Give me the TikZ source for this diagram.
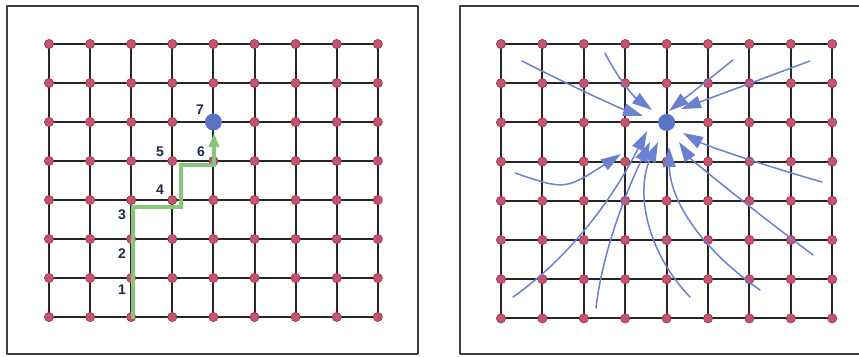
\documentclass[tikz,border=0pt]{standalone}
\usepackage{fontspec}
\setsansfont{Liberation Sans}
\usetikzlibrary{arrows.meta}
\definecolor{dotred}{HTML}{C8536E}
\definecolor{dotedge}{HTML}{8E3347}
\definecolor{fieldblue}{HTML}{5A72C8}
\definecolor{pathgreen}{HTML}{86C878}
\definecolor{labelnavy}{HTML}{1E2A48}
\tikzset{
  frame/.style={line width=1.2pt, black!75},
  gridline/.style={line width=2pt, black!85},
  gridnode/.style={fill=dotred, draw=dotedge, line width=0.6pt},
  goal/.style={circle, fill=fieldblue, inner sep=0pt, minimum size=17pt},
  walk/.style={line width=3.4pt, pathgreen, line join=miter, line cap=butt,
    -{Triangle[length=14pt,width=10pt]}},
  steplabel/.style={text=labelnavy, font=\sffamily\bfseries\fontsize{14}{15}\selectfont, inner sep=0pt},
  field/.style={line width=1.5pt, fieldblue!90, -{Triangle[length=20pt,width=12.5pt]}}
}
\begin{document}
\begin{tikzpicture}[x=1pt, y=-1pt, line join=round, line cap=round]
  \useasboundingbox (0,0) rectangle (859,356);
  \def\dxl{41.1} \def\dyl{39}
  \def\dxr{41.4} \def\dyr{39.2}

  % Khung hai hình
  \draw[frame] (7,6) rectangle (418,354);
  \draw[frame] (859,6) -| (460,354) -- (859,354);

  % Lưới bên trái và bên phải
  \foreach \i in {0,...,8}
    \foreach \j in {0,...,7} {
      \coordinate (L-\i-\j) at ({49+\i*\dxl},{44+\j*\dyl});
      \coordinate (R-\i-\j) at ({501+\i*\dxr},{44+\j*\dyr});
    }
  \foreach \j in {0,...,7} {
    \draw[gridline] (L-0-\j) -- (L-8-\j);
    \draw[gridline] (R-0-\j) -- (R-8-\j);
  }
  \foreach \i in {0,...,8} {
    \draw[gridline] (L-\i-0) -- (L-\i-7);
    \draw[gridline] (R-\i-0) -- (R-\i-7);
  }
  \foreach \i in {0,...,8}
    \foreach \j in {0,...,7} {
      \filldraw[gridnode] (L-\i-\j) circle (4.6pt);
      \filldraw[gridnode] (R-\i-\j) circle (4.6pt);
    }

  % Đích
  \node[goal] (goalL) at (L-4-2) {};
  \node[goal] (goalR) at (R-4-2) {};

  % Đường đi từng bước
  \coordinate (w0) at (133,319);
  \coordinate (w1) at (181,207);
  \coordinate (w2) at (214,165);
  \coordinate (w3) at (214,133);
  \draw[walk] (w0) |- (w1) |- (w2) -- (w3);
  \node[steplabel] (n1) at (122,290) {1};
  \node[steplabel] (n2) at (122,254) {2};
  \node[steplabel] (n3) at (122,215) {3};
  \node[steplabel] (n4) at (160,190) {4};
  \node[steplabel] (n5) at (160,152) {5};
  \node[steplabel] (n6) at (201,152) {6};
  \node[steplabel] (n7) at (200,110) {7};

  % Các đường hội tụ về đích
  \coordinate (s1) at (522,61);   \coordinate (t1) at (643,116);
  \coordinate (s2) at (605,53);   \coordinate (t2) at (652,110);
  \coordinate (s3) at (733,60);   \coordinate (t3) at (669,111);
  \coordinate (s4) at (810,61);   \coordinate (t4) at (681,109);
  \coordinate (s5) at (515,173);  \coordinate (t5) at (621,154);
  \coordinate (s6) at (513,297);  \coordinate (t6) at (647,131);
  \coordinate (s7) at (596,308);  \coordinate (t7) at (650,142);
  \coordinate (s8) at (690,297);  \coordinate (t8) at (658,142);
  \coordinate (s9) at (760,290);  \coordinate (t9) at (669,147);
  \coordinate (s10) at (813,255); \coordinate (t10) at (679,142);
  \coordinate (s11) at (822,182); \coordinate (t11) at (683,133);
  \draw[field] (s1) .. controls (581,91) and (622,109) .. (t1);
  \draw[field] (s2) .. controls (617,77) and (633,96) .. (t2);
  \draw[field] (s3) -- (t3);
  \draw[field] (s4) -- (t4);
  \draw[field] (s5) .. controls (565,190) .. (t5);
  \draw[field] (s6) .. controls (566,260) and (610,204) .. (t6);
  \draw[field] (s7) .. controls (601,263) and (619,207) .. (t7);
  \draw[field] (s8) .. controls (645,250) and (636,190) .. (t8);
  \draw[field] (s9) .. controls (700,248) and (670,200) .. (t9);
  \draw[field] (s10) .. controls (733,195) and (689,157) .. (t10);
  \draw[field] (s11) .. controls (749,161) and (703,144) .. (t11);
\end{tikzpicture}
\end{document}
